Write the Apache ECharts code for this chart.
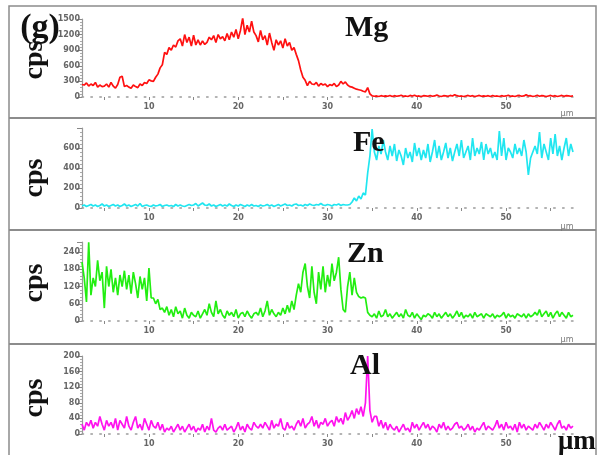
<!DOCTYPE html>
<html>
<head>
<meta charset="utf-8">
<script src="https://cdn.jsdelivr.net/npm/echarts@6/dist/echarts.min.js"></script>
<style>html,body{margin:0;padding:0;background:#fff;}#c{width:603px;height:455px;}</style>
</head>
<body>
<div id="c"></div>
<script>
// distance axis (μm): samples start at X_START with spacing X_STEP
const X_START = 2.5, X_STEP = 0.25;
const xLabelValues = [10, 20, 30, 40, 50];
const xTickValues = [5, 10, 15, 20, 25, 30, 35, 40, 45, 50, 55];
const elements = ['Mg', 'Fe', 'Zn', 'Al'];

const mg = [
 240,230,270,210, 250,220,280,190, 230,200,210,250, 190,280,210,170, 240,380,400,200,
 220,190,170,230, 200,180,250,220, 280,260,330,310, 300,380,440,560, 620,860,820,950,
 900,1000,960,1080, 1120,980,1200,1050, 1150,980,1190,1000, 1100,1000,1080,1010, 1050,1150,1100,1180,
 1050,1200,1120,1160, 1080,1220,1100,1250, 1150,1300,1120,1280, 1520,1200,1380,1250, 1460,1250,1180,1060,
 1280,1100,1180,1000, 1230,1050,900,1100, 1000,1080,940,1120, 980,1050,900,950, 820,700,520,380,
 320,220,300,250, 240,280,210,260, 230,250,200,240, 220,260,200,230, 300,250,290,230,
 200,190,170,150, 140,130,110,100, 180,60,20,15, 20,10,25,15, 20,15,30,10,
 25,15,20,35, 15,20,10,30, 20,35,15,20, 10,25,20,15, 30,15,20,40,
 20,10,25,20, 15,30,20,45, 25,15,20,10, 20,30,15,25, 10,20,30,15,
 20,15,25,10, 30,15,20,10, 25,15,20,35, 15,20,10,25, 30,15,20,45,
 20,25,10,20, 35,15,25,20, 10,20,30,15, 25,10,20,30, 15,25,20,15, 20
];
const fe = [
 20,30,15,25, 35,20,30,15, 25,40,20,30, 15,25,35,20, 30,15,25,40,
 20,30,15,25, 35,20,45,15, 25,30,20,15, 30,20,25,35, 15,25,30,20,
 25,15,35,20, 30,20,15,25, 35,25,30,45, 20,35,50,30, 25,40,20,30,
 15,25,35,20, 30,20,40,25, 15,30,20,35, 25,15,30,20, 35,20,25,15,
 30,20,25,35, 20,30,15,25, 35,20,30,40, 25,30,20,35, 40,25,30,20,
 35,25,40,30, 25,35,30,45, 30,25,35,30, 20,35,30,40, 25,35,30,30,
 35,60,100,70, 120,90,150,130, 350,520,790,560, 480,620,540,680, 560,480,620,520,
 640,470,580,520, 430,600,500,560, 460,650,520,600, 480,580,500,640, 460,560,680,500,
 620,480,560,650, 500,600,470,560, 640,520,680,500, 560,620,480,700, 520,600,540,660,
 480,640,540,600, 500,560,480,770, 520,700,480,600, 560,500,640,540, 600,520,680,560,
 330,500,560,620, 540,760,500,640, 560,480,700,540, 740,520,620,480, 600,700,520,640, 560
];
const zn = [
 205,150,66,274, 90,150,120,211, 140,170,45,190, 120,180,100,150, 90,160,120,175,
 110,160,95,170, 130,80,155,110, 150,70,184,80, 80,60,75,40, 45,30,50,20,
 40,15,50,25, 35,10,45,20, 10,30,20,15, 35,10,25,40, 20,60,30,15,
 70,25,40,20, 10,35,20,30, 15,40,10,25, 30,15,35,20, 10,25,30,20,
 45,15,35,70, 20,40,25,15, 30,20,45,25, 55,30,70,40, 90,130,100,170,
 200,120,80,190, 100,60,170,110, 190,100,160,120, 200,140,170,222, 110,40,31,120,
 170,90,150,100, 85,80,83,80, 30,20,15,25, 10,35,15,20, 40,15,25,10,
 20,30,15,25, 10,40,20,15, 30,10,25,15, 5,20,15,25, 20,10,30,15,
 25,10,20,30, 15,25,10,20, 35,15,30,10, 20,15,25,10, 30,15,20,25,
 10,25,20,15, 25,10,20,15, 20,30,10,25, 15,20,10,25, 20,15,25,10,
 25,15,20,30, 20,40,15,25, 35,15,30,10, 25,35,15,30, 20,10,30,15, 20
];
const al = [
 25,10,30,20, 35,15,30,20, 45,25,10,35, 20,30,15,40, 10,35,25,15,
 45,20,10,30, 45,15,25,10, 40,25,10,35, 20,15,30,10, 25,5,15,10,
 20,5,15,25, 10,20,5,15, 25,10,20,5, 15,10,25,5, 20,10,40,10,
 5,15,20,10, 25,10,15,20, 5,15,30,10, 20,5,25,15, 10,30,20,15,
 25,15,30,20, 10,35,15,25, 20,40,15,10, 30,15,20,10, 25,35,20,40,
 15,25,30,45, 20,35,15,30, 25,40,20,30, 35,20,45,30, 40,25,55,35,
 45,60,40,65, 50,70,45,80, 200,60,30,45, 45,20,35,15, 30,10,25,15,
 10,20,5,15, 25,10,15,5, 30,15,25,10, 20,30,15,25, 10,20,15,5,
 25,15,30,10, 20,10,15,25, 30,15,20,10, 15,25,10,20, 5,15,10,20,
 30,10,20,15, 10,20,35,15, 25,10,30,15, 20,10,25,5, 30,15,25,10,
 20,15,10,25, 15,30,20,10, 25,15,30,20, 10,25,35,15, 20,10,25,15, 20
];
const yMax = [1500, 800, 275, 200];
const yInterval = [300, 200, 60, 40];
const colors = ['#ff1010', '#20e6f0', '#22ee11', '#ff12ee'];
const seriesValues = [mg, fe, zn, al];

const gridTops = [19, 128, 242, 356];
const gridHeights = [78, 80, 79, 78];

const chart = echarts.init(document.getElementById('c'), null, {renderer: 'canvas'});
const grids = [], xAxes = [], yAxes = [], series = [];
for (let i = 0; i < 4; i++) {
  grids.push({left: 82, right: 30, top: gridTops[i], height: gridHeights[i], containLabel: false});
  xAxes.push({
    type: 'value', gridIndex: i, min: 2.5, max: 57.5,
    axisLine: {show: true, lineStyle: {color: '#9a9a9a', width: 1.5, type: [1.5, 7.4]}},
    axisTick: {show: true, customValues: xTickValues, length: 3, lineStyle: {color: '#888'}},
    axisLabel: {show: true, customValues: xLabelValues, fontSize: 8, color: '#666', margin: 6,
      fontFamily: 'DejaVu Sans', fontWeight: 'bold'},
    splitLine: {show: false}
  });
  const iv = yInterval[i];
  yAxes.push({
    type: 'value', gridIndex: i, min: 0, max: yMax[i], interval: iv,
    axisLine: {show: true, lineStyle: {color: '#9a9a9a', width: 1.2}},
    axisTick: {show: true, length: 5, lineStyle: {color: '#888'}},
    minorTick: {show: true, splitNumber: 5, length: 2, lineStyle: {color: '#aaa'}},
    axisLabel: {fontSize: 8, color: '#666', margin: 2, fontFamily: 'DejaVu Sans', fontWeight: 'bold',
      formatter: v => (v % iv === 0 && !(i === 1 && v === 800)) ? String(v) : ''},
    splitLine: {show: false}
  });
  series.push({
    type: 'line', name: elements[i], xAxisIndex: i, yAxisIndex: i,
    showSymbol: false, symbol: 'none', animation: false,
    lineStyle: {color: colors[i], width: 1.7}, itemStyle: {color: colors[i]},
    data: seriesValues[i].map((v, k) => [X_START + k * X_STEP, v])
  });
}

const serif = '"Liberation Serif", "Times New Roman", serif';
const graphic = [];
// panel frames
graphic.push({type: 'rect', shape: {x: 9, y: 6, width: 587, height: 460}, style: {fill: null, stroke: '#8c8c8c', lineWidth: 1.5}, z: 1});
[118, 230, 344].forEach(y => graphic.push({type: 'line', shape: {x1: 9, y1: y, x2: 596, y2: y}, style: {stroke: '#8c8c8c', lineWidth: 2}, z: 1}));
// element titles (top of text box)
const titlePos = [[345, 13], [353, 128], [347, 239], [350, 351]];
elements.forEach((t, i) => graphic.push({type: 'text', x: titlePos[i][0], y: titlePos[i][1], z: 20,
  style: {text: t, font: 'bold 30px ' + serif, fill: '#111'}}));
// cps labels
const cpsY = [60, 178, 283, 398];
cpsY.forEach(y => graphic.push({type: 'text', x: 35, y: y, rotation: Math.PI / 2, z: 20,
  style: {text: 'cps', font: 'bold 28px ' + serif, fill: '#111', align: 'center', verticalAlign: 'middle'}}));
// small unit labels
[114, 227, 340].forEach(y => graphic.push({type: 'text', x: 567, y: y, z: 5,
  style: {text: 'μm', font: '8px "DejaVu Sans"', fill: '#777', align: 'center', verticalAlign: 'middle'}}));
graphic.push({type: 'text', x: 558, y: 429, z: 20, style: {text: 'μm', font: 'bold 27px ' + serif, fill: '#111'}});
graphic.push({type: 'text', x: 40, y: 28, z: 20, style: {text: '(g)', font: 'bold 34px ' + serif, fill: '#111', align: 'center', verticalAlign: 'middle'}});

chart.setOption({
  animation: false,
  backgroundColor: '#fff',
  grid: grids, xAxis: xAxes, yAxis: yAxes, series: series, graphic: graphic
});
</script>
</body>
</html>
